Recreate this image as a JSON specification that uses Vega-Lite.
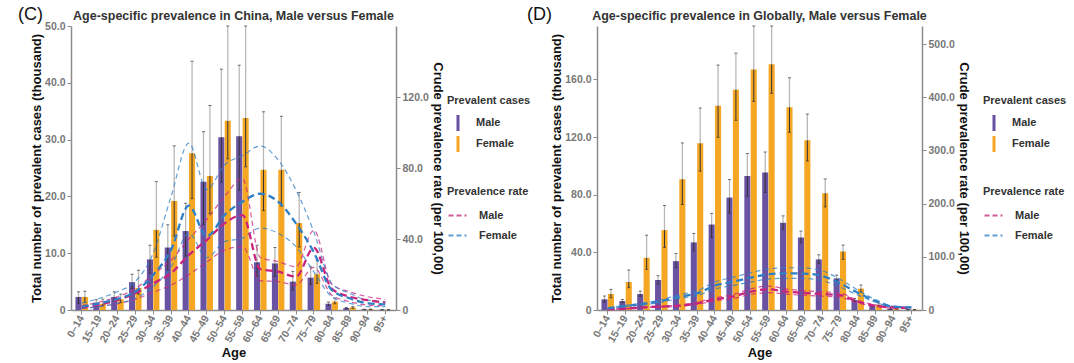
{
  "$schema": "https://vega.github.io/schema/vega-lite/v6.json",
  "background": "white",
  "padding": {"left": 17, "top": 5, "right": 0, "bottom": 0},
  "spacing": -5,
  "config": {
    "font": "Liberation Sans",
    "view": {"stroke": null},
    "axis": {"grid": false, "domainColor": "#8c8c8c", "domainWidth": 1.5, "tickColor": "#8c8c8c", "tickSize": 4, "labelColor": "#777", "labelFontSize": 10.5, "labelFontWeight": "bold", "titleColor": "#111", "titleFontSize": 13, "titleFontWeight": "bold"},
    "legend": {"titleFontSize": 11, "titleFontWeight": "bold", "titleColor": "#333", "labelFontSize": 11, "labelFontWeight": "bold", "labelColor": "#333"}
  },
  "datasets": {
    "cBars": [
      {"age": "0–14", "sex": "Male", "val": 2.3, "lo": 1.2, "hi": 3.2},
      {"age": "0–14", "sex": "Female", "val": 2.3, "lo": 1.3, "hi": 3.3},
      {"age": "15–19", "sex": "Male", "val": 1.3, "lo": 0.9, "hi": 1.8},
      {"age": "15–19", "sex": "Female", "val": 1.1, "lo": 0.8, "hi": 1.9},
      {"age": "20–24", "sex": "Male", "val": 2.3, "lo": 1.6, "hi": 3.2},
      {"age": "20–24", "sex": "Female", "val": 1.9, "lo": 1.3, "hi": 2.8},
      {"age": "25–29", "sex": "Male", "val": 4.9, "lo": 3.8, "hi": 6.3},
      {"age": "25–29", "sex": "Female", "val": 3.9, "lo": 2.8, "hi": 7.0},
      {"age": "30–34", "sex": "Male", "val": 8.9, "lo": 6.5, "hi": 11.4},
      {"age": "30–34", "sex": "Female", "val": 14.1, "lo": 9.3, "hi": 22.6},
      {"age": "35–39", "sex": "Male", "val": 11.0, "lo": 7.0, "hi": 15.0},
      {"age": "35–39", "sex": "Female", "val": 19.2, "lo": 13.0, "hi": 28.9},
      {"age": "40–44", "sex": "Male", "val": 13.9, "lo": 9.5, "hi": 18.8},
      {"age": "40–44", "sex": "Female", "val": 27.6, "lo": 19.6, "hi": 43.8},
      {"age": "45–49", "sex": "Male", "val": 22.6, "lo": 15.0, "hi": 31.4},
      {"age": "45–49", "sex": "Female", "val": 23.6, "lo": 17.0, "hi": 36.0},
      {"age": "50–54", "sex": "Male", "val": 30.4, "lo": 22.5, "hi": 42.4},
      {"age": "50–54", "sex": "Female", "val": 33.3, "lo": 26.6, "hi": 50.0},
      {"age": "55–59", "sex": "Male", "val": 30.6, "lo": 21.1, "hi": 43.1},
      {"age": "55–59", "sex": "Female", "val": 33.8, "lo": 25.2, "hi": 50.0},
      {"age": "60–64", "sex": "Male", "val": 8.4, "lo": 5.9, "hi": 11.4},
      {"age": "60–64", "sex": "Female", "val": 24.7, "lo": 17.5, "hi": 34.9},
      {"age": "65–69", "sex": "Male", "val": 8.2, "lo": 5.9, "hi": 11.0},
      {"age": "65–69", "sex": "Female", "val": 24.7, "lo": 18.3, "hi": 34.1},
      {"age": "70–74", "sex": "Male", "val": 5.0, "lo": 3.5, "hi": 6.8},
      {"age": "70–74", "sex": "Female", "val": 15.3, "lo": 11.1, "hi": 20.7},
      {"age": "75–79", "sex": "Male", "val": 5.7, "lo": 4.5, "hi": 7.6},
      {"age": "75–79", "sex": "Female", "val": 6.3, "lo": 4.7, "hi": 8.8},
      {"age": "80–84", "sex": "Male", "val": 1.1, "lo": 0.8, "hi": 1.4},
      {"age": "80–84", "sex": "Female", "val": 1.5, "lo": 1.1, "hi": 2.1},
      {"age": "85–89", "sex": "Male", "val": 0.35, "lo": 0.25, "hi": 0.45},
      {"age": "85–89", "sex": "Female", "val": 0.45, "lo": 0.3, "hi": 0.6},
      {"age": "90–94", "sex": "Male", "val": 0.1, "lo": 0.07, "hi": 0.13},
      {"age": "90–94", "sex": "Female", "val": 0.12, "lo": 0.08, "hi": 0.16},
      {"age": "95+", "sex": "Male", "val": 0.05, "lo": 0.03, "hi": 0.07},
      {"age": "95+", "sex": "Female", "val": 0.05, "lo": 0.03, "hi": 0.07}
    ],
    "cRates": [
      {"age": "0–14", "gender": "Male", "est": 1.5, "lo": 0.8, "hi": 2.5},
      {"age": "15–19", "gender": "Male", "est": 3.2, "lo": 2.0, "hi": 4.5},
      {"age": "20–24", "gender": "Male", "est": 5.6, "lo": 3.5, "hi": 7.5},
      {"age": "25–29", "gender": "Male", "est": 9.4, "lo": 6.0, "hi": 12.0},
      {"age": "30–34", "gender": "Male", "est": 15.0, "lo": 10.0, "hi": 20.0},
      {"age": "35–39", "gender": "Male", "est": 20.7, "lo": 14.0, "hi": 28.0},
      {"age": "40–44", "gender": "Male", "est": 31.0, "lo": 20.0, "hi": 40.0},
      {"age": "45–49", "gender": "Male", "est": 39.4, "lo": 27.0, "hi": 51.0},
      {"age": "50–54", "gender": "Male", "est": 48.8, "lo": 33.8, "hi": 64.0},
      {"age": "55–59", "gender": "Male", "est": 53.5, "lo": 35.7, "hi": 74.0},
      {"age": "60–64", "gender": "Male", "est": 23.0, "lo": 16.5, "hi": 29.6},
      {"age": "65–69", "gender": "Male", "est": 21.6, "lo": 16.0, "hi": 27.2},
      {"age": "70–74", "gender": "Male", "est": 18.8, "lo": 14.1, "hi": 24.4},
      {"age": "75–79", "gender": "Male", "est": 35.0, "lo": 24.0, "hi": 45.0},
      {"age": "80–84", "gender": "Male", "est": 12.0, "lo": 8.5, "hi": 14.5},
      {"age": "85–89", "gender": "Male", "est": 7.5, "lo": 4.7, "hi": 10.3},
      {"age": "90–94", "gender": "Male", "est": 5.6, "lo": 2.8, "hi": 7.5},
      {"age": "95+", "gender": "Male", "est": 4.1, "lo": 2.3, "hi": 6.0},
      {"age": "0–14", "gender": "Female", "est": 1.9, "lo": 0.9, "hi": 3.9},
      {"age": "15–19", "gender": "Female", "est": 3.8, "lo": 1.9, "hi": 6.6},
      {"age": "20–24", "gender": "Female", "est": 6.2, "lo": 3.8, "hi": 10.3},
      {"age": "25–29", "gender": "Female", "est": 10.3, "lo": 6.6, "hi": 16.0},
      {"age": "30–34", "gender": "Female", "est": 19.7, "lo": 13.1, "hi": 31.9},
      {"age": "35–39", "gender": "Female", "est": 33.8, "lo": 24.4, "hi": 63.8},
      {"age": "40–44", "gender": "Female", "est": 58.8, "lo": 43.2, "hi": 94.0},
      {"age": "45–49", "gender": "Female", "est": 41.5, "lo": 29.5, "hi": 68.0},
      {"age": "50–54", "gender": "Female", "est": 53.5, "lo": 38.5, "hi": 81.7},
      {"age": "55–59", "gender": "Female", "est": 61.0, "lo": 40.5, "hi": 87.0},
      {"age": "60–64", "gender": "Female", "est": 65.5, "lo": 46.2, "hi": 92.4},
      {"age": "65–69", "gender": "Female", "est": 61.0, "lo": 43.2, "hi": 84.5},
      {"age": "70–74", "gender": "Female", "est": 48.8, "lo": 35.7, "hi": 67.6},
      {"age": "75–79", "gender": "Female", "est": 32.5, "lo": 21.5, "hi": 44.0},
      {"age": "80–84", "gender": "Female", "est": 11.3, "lo": 7.5, "hi": 15.0},
      {"age": "85–89", "gender": "Female", "est": 6.6, "lo": 3.8, "hi": 9.4},
      {"age": "90–94", "gender": "Female", "est": 3.8, "lo": 1.9, "hi": 5.6},
      {"age": "95+", "gender": "Female", "est": 3.2, "lo": 1.9, "hi": 4.7}
    ],
    "dBars": [
      {"age": "0–14", "sex": "Male", "val": 7.4, "lo": 5.5, "hi": 9.7},
      {"age": "0–14", "sex": "Female", "val": 11.1, "lo": 8.5, "hi": 14.3},
      {"age": "15–19", "sex": "Male", "val": 6.2, "lo": 5.2, "hi": 7.3},
      {"age": "15–19", "sex": "Female", "val": 19.4, "lo": 15.5, "hi": 27.7},
      {"age": "20–24", "sex": "Male", "val": 11.1, "lo": 9.5, "hi": 13.1},
      {"age": "20–24", "sex": "Female", "val": 36.2, "lo": 28.2, "hi": 51.9},
      {"age": "25–29", "sex": "Male", "val": 20.8, "lo": 18.0, "hi": 23.8},
      {"age": "25–29", "sex": "Female", "val": 55.4, "lo": 43.4, "hi": 72.5},
      {"age": "30–34", "sex": "Male", "val": 33.9, "lo": 29.5, "hi": 39.2},
      {"age": "30–34", "sex": "Female", "val": 90.7, "lo": 73.2, "hi": 115.9},
      {"age": "35–39", "sex": "Male", "val": 46.9, "lo": 41.0, "hi": 53.1},
      {"age": "35–39", "sex": "Female", "val": 115.6, "lo": 96.3, "hi": 140.1},
      {"age": "40–44", "sex": "Male", "val": 59.3, "lo": 50.3, "hi": 67.0},
      {"age": "40–44", "sex": "Female", "val": 141.7, "lo": 119.8, "hi": 169.9},
      {"age": "45–49", "sex": "Male", "val": 78.0, "lo": 67.0, "hi": 90.5},
      {"age": "45–49", "sex": "Female", "val": 152.8, "lo": 131.6, "hi": 178.2},
      {"age": "50–54", "sex": "Male", "val": 93.0, "lo": 79.0, "hi": 108.5},
      {"age": "50–54", "sex": "Female", "val": 166.9, "lo": 144.7, "hi": 197.0},
      {"age": "55–59", "sex": "Male", "val": 95.4, "lo": 81.5, "hi": 109.6},
      {"age": "55–59", "sex": "Female", "val": 170.4, "lo": 150.3, "hi": 197.0},
      {"age": "60–64", "sex": "Male", "val": 60.5, "lo": 55.9, "hi": 65.3},
      {"age": "60–64", "sex": "Female", "val": 140.6, "lo": 123.3, "hi": 161.1},
      {"age": "65–69", "sex": "Male", "val": 50.3, "lo": 46.6, "hi": 54.7},
      {"age": "65–69", "sex": "Female", "val": 117.7, "lo": 103.4, "hi": 135.9},
      {"age": "70–74", "sex": "Male", "val": 35.1, "lo": 32.3, "hi": 38.3},
      {"age": "70–74", "sex": "Female", "val": 81.0, "lo": 71.5, "hi": 90.9},
      {"age": "75–79", "sex": "Male", "val": 21.9, "lo": 20.0, "hi": 24.2},
      {"age": "75–79", "sex": "Female", "val": 40.6, "lo": 35.1, "hi": 45.0},
      {"age": "80–84", "sex": "Male", "val": 7.0, "lo": 6.0, "hi": 8.0},
      {"age": "80–84", "sex": "Female", "val": 14.8, "lo": 12.5, "hi": 17.3},
      {"age": "85–89", "sex": "Male", "val": 2.8, "lo": 2.2, "hi": 3.5},
      {"age": "85–89", "sex": "Female", "val": 3.5, "lo": 2.8, "hi": 4.3},
      {"age": "90–94", "sex": "Male", "val": 0.7, "lo": 0.5, "hi": 0.9},
      {"age": "90–94", "sex": "Female", "val": 0.8, "lo": 0.6, "hi": 1.0},
      {"age": "95+", "sex": "Male", "val": 0.3, "lo": 0.2, "hi": 0.4},
      {"age": "95+", "sex": "Female", "val": 0.3, "lo": 0.2, "hi": 0.4}
    ],
    "dRates": [
      {"age": "0–14", "gender": "Male", "est": 1.3, "lo": 1.0, "hi": 1.7},
      {"age": "15–19", "gender": "Male", "est": 2.5, "lo": 2.0, "hi": 3.0},
      {"age": "20–24", "gender": "Male", "est": 5.0, "lo": 4.2, "hi": 5.8},
      {"age": "25–29", "gender": "Male", "est": 6.3, "lo": 5.3, "hi": 7.4},
      {"age": "30–34", "gender": "Male", "est": 8.1, "lo": 6.9, "hi": 9.4},
      {"age": "35–39", "gender": "Male", "est": 12.5, "lo": 10.6, "hi": 14.4},
      {"age": "40–44", "gender": "Male", "est": 20.0, "lo": 17.0, "hi": 23.0},
      {"age": "45–49", "gender": "Male", "est": 25.0, "lo": 21.3, "hi": 28.8},
      {"age": "50–54", "gender": "Male", "est": 34.5, "lo": 29.3, "hi": 39.7},
      {"age": "55–59", "gender": "Male", "est": 38.9, "lo": 32.6, "hi": 45.0},
      {"age": "60–64", "gender": "Male", "est": 34.5, "lo": 29.8, "hi": 39.4},
      {"age": "65–69", "gender": "Male", "est": 32.0, "lo": 27.6, "hi": 36.5},
      {"age": "70–74", "gender": "Male", "est": 30.0, "lo": 26.0, "hi": 34.2},
      {"age": "75–79", "gender": "Male", "est": 28.0, "lo": 24.2, "hi": 32.0},
      {"age": "80–84", "gender": "Male", "est": 15.6, "lo": 13.2, "hi": 18.0},
      {"age": "85–89", "gender": "Male", "est": 8.1, "lo": 6.7, "hi": 9.5},
      {"age": "90–94", "gender": "Male", "est": 4.4, "lo": 3.5, "hi": 5.3},
      {"age": "95+", "gender": "Male", "est": 3.8, "lo": 3.0, "hi": 4.6},
      {"age": "0–14", "gender": "Female", "est": 3.2, "lo": 2.6, "hi": 3.9},
      {"age": "15–19", "gender": "Female", "est": 7.5, "lo": 6.4, "hi": 8.7},
      {"age": "20–24", "gender": "Female", "est": 11.3, "lo": 9.7, "hi": 13.1},
      {"age": "25–29", "gender": "Female", "est": 16.9, "lo": 14.6, "hi": 19.5},
      {"age": "30–34", "gender": "Female", "est": 25.0, "lo": 21.6, "hi": 28.8},
      {"age": "35–39", "gender": "Female", "est": 31.3, "lo": 27.1, "hi": 36.0},
      {"age": "40–44", "gender": "Female", "est": 45.7, "lo": 39.5, "hi": 52.6},
      {"age": "45–49", "gender": "Female", "est": 53.2, "lo": 46.0, "hi": 61.3},
      {"age": "50–54", "gender": "Female", "est": 60.8, "lo": 52.5, "hi": 70.0},
      {"age": "55–59", "gender": "Female", "est": 67.0, "lo": 57.9, "hi": 77.2},
      {"age": "60–64", "gender": "Female", "est": 69.0, "lo": 59.6, "hi": 79.5},
      {"age": "65–69", "gender": "Female", "est": 68.5, "lo": 59.2, "hi": 79.0},
      {"age": "70–74", "gender": "Female", "est": 64.0, "lo": 55.3, "hi": 73.8},
      {"age": "75–79", "gender": "Female", "est": 50.2, "lo": 43.4, "hi": 57.9},
      {"age": "80–84", "gender": "Female", "est": 32.6, "lo": 28.2, "hi": 37.6},
      {"age": "85–89", "gender": "Female", "est": 16.9, "lo": 14.6, "hi": 19.5},
      {"age": "90–94", "gender": "Female", "est": 6.3, "lo": 5.4, "hi": 7.3},
      {"age": "95+", "gender": "Female", "est": 5.0, "lo": 4.3, "hi": 5.8}
    ]
  },
  "hconcat": [
    {
      "width": 325, "height": 284,
      "title": {"text": "Age-specific prevalence in China, Male versus Female", "anchor": "middle", "frame": "group", "fontSize": 12.5, "fontWeight": "bold", "color": "#333", "offset": -17},
      "layer": [
        {
          "data": {"name": "cBars"},
          "layer": [
            {"mark": {"type": "bar"},
             "encoding": {
               "x": {"field": "age", "type": "nominal", "scale": {"domain": ["0–14","15–19","20–24","25–29","30–34","35–39","40–44","45–49","50–54","55–59","60–64","65–69","70–74","75–79","80–84","85–89","90–94","95+"], "paddingInner": 0.3, "paddingOuter": 0.25}, "axis": {"orient": "bottom", "title": "Age", "labelAngle": -60, "labelFontSize": 10.5, "titlePadding": 2}},
               "xOffset": {"field": "sex", "type": "nominal", "scale": {"domain": ["Male","Female"], "paddingInner": 0.05}},
               "y": {"field": "val", "type": "quantitative", "scale": {"domain": [0, 50], "nice": false}, "axis": {"title": "Total number of prevalent cases (thousand)", "titlePadding": 1, "values": [0,10,20,30,40,50], "labelExpr": "datum.value == 0 ? '0' : format(datum.value, '.1f')"}},
               "fill": {"field": "sex", "type": "nominal", "scale": {"domain": ["Male","Female"], "range": ["#6a52a3","#f5a623"]}, "legend": {"title": "Prevalent cases", "orient": "none", "legendX": 376, "legendY": 69, "symbolType": "M-0.19,-1L0.19,-1L0.19,1L-0.19,1Z", "symbolSize": 256, "symbolStrokeWidth": 0, "symbolOffset": 3, "labelOffset": 10, "rowPadding": 5, "titlePadding": 9}}
             }},
            {"mark": {"type": "rule", "color": "#b8b8b8", "strokeWidth": 1.3},
             "encoding": {"x": {"field": "age", "type": "nominal"}, "xOffset": {"field": "sex", "type": "nominal"}, "y": {"field": "val", "type": "quantitative"}, "y2": {"field": "hi"}}},
            {"mark": {"type": "rule", "color": "#333", "strokeWidth": 1},
             "encoding": {"x": {"field": "age", "type": "nominal"}, "xOffset": {"field": "sex", "type": "nominal"}, "y": {"field": "lo", "type": "quantitative"}, "y2": {"field": "val"}}},
            {"mark": {"type": "tick", "color": "#333", "size": 3, "thickness": 1},
             "encoding": {"x": {"field": "age", "type": "nominal"}, "xOffset": {"field": "sex", "type": "nominal"}, "y": {"field": "hi", "type": "quantitative"}}},
            {"mark": {"type": "tick", "color": "#333", "size": 3, "thickness": 1},
             "encoding": {"x": {"field": "age", "type": "nominal"}, "xOffset": {"field": "sex", "type": "nominal"}, "y": {"field": "lo", "type": "quantitative"}}}
          ]
        },
        {
          "data": {"name": "cRates"},
          "layer": [
            {"mark": {"type": "line", "interpolate": "monotone", "strokeDash": [5, 3.5], "strokeWidth": 1.2, "opacity": 0.75},
             "encoding": {
               "x": {"field": "age", "type": "nominal", "axis": {"orient": "top", "labels": false, "ticks": false, "domain": false, "title": "(C)", "titleX": -41, "titleY": -7, "titleAngle": 0, "titleAlign": "center", "titleBaseline": "alphabetic", "titleFontSize": 18, "titleFontWeight": "normal", "titleColor": "#111"}},
               "y": {"field": "lo", "type": "quantitative", "scale": {"domain": [0, 160], "nice": false}, "axis": {"orient": "right", "title": "Crude prevalence rate (per 100,00)", "titlePadding": 2, "values": [0,40,80,120], "labelExpr": "datum.value == 0 ? '0' : format(datum.value, '.1f')"}},
               "stroke": {"field": "gender", "type": "nominal", "sort": "descending", "scale": {"range": ["#c8237d","#2f7fc5"]}}
             }},
            {"mark": {"type": "line", "interpolate": "monotone", "strokeDash": [5, 3.5], "strokeWidth": 1.2, "opacity": 0.75},
             "encoding": {"x": {"field": "age", "type": "nominal"}, "y": {"field": "hi", "type": "quantitative"}, "stroke": {"field": "gender", "type": "nominal", "sort": "descending"}}},
            {"mark": {"type": "line", "interpolate": "monotone", "strokeDash": [7, 4], "strokeWidth": 2.3},
             "encoding": {"x": {"field": "age", "type": "nominal"}, "y": {"field": "est", "type": "quantitative"}, "stroke": {"field": "gender", "type": "nominal", "sort": "descending", "legend": {"title": "Prevalence rate", "orient": "none", "legendX": 376, "legendY": 160, "symbolType": "stroke", "symbolSize": 324, "symbolDash": [5, 3], "symbolStrokeWidth": 2.2, "labelOffset": 11, "rowPadding": 4, "titlePadding": 8}}}}
          ]
        }
      ],
      "resolve": {"scale": {"y": "independent"}, "axis": {"x": "independent"}}
    },
    {
      "width": 325, "height": 284,
      "title": {"text": "Age-specific prevalence in Globally, Male versus Female", "anchor": "middle", "frame": "group", "fontSize": 12.5, "fontWeight": "bold", "color": "#333", "offset": -17},
      "layer": [
        {
          "data": {"name": "dBars"},
          "layer": [
            {"mark": {"type": "bar"},
             "encoding": {
               "x": {"field": "age", "type": "nominal", "scale": {"domain": ["0–14","15–19","20–24","25–29","30–34","35–39","40–44","45–49","50–54","55–59","60–64","65–69","70–74","75–79","80–84","85–89","90–94","95+"], "paddingInner": 0.3, "paddingOuter": 0.25}, "axis": {"orient": "bottom", "title": "Age", "labelAngle": -60, "labelFontSize": 10.5, "titlePadding": 2}},
               "xOffset": {"field": "sex", "type": "nominal", "scale": {"domain": ["Male","Female"], "paddingInner": 0.05}},
               "y": {"field": "val", "type": "quantitative", "scale": {"domain": [0, 197], "nice": false}, "axis": {"title": "Total number of prevalent cases (thousand)", "titlePadding": 1, "values": [0,40,80,120,160], "labelExpr": "datum.value == 0 ? '0' : format(datum.value, '.1f')"}},
               "fill": {"field": "sex", "type": "nominal", "scale": {"domain": ["Male","Female"], "range": ["#6a52a3","#f5a623"]}, "legend": {"title": "Prevalent cases", "orient": "none", "legendX": 386, "legendY": 69, "symbolType": "M-0.19,-1L0.19,-1L0.19,1L-0.19,1Z", "symbolSize": 256, "symbolStrokeWidth": 0, "symbolOffset": 3, "labelOffset": 10, "rowPadding": 5, "titlePadding": 9}}
             }},
            {"mark": {"type": "rule", "color": "#b8b8b8", "strokeWidth": 1.3},
             "encoding": {"x": {"field": "age", "type": "nominal"}, "xOffset": {"field": "sex", "type": "nominal"}, "y": {"field": "val", "type": "quantitative"}, "y2": {"field": "hi"}}},
            {"mark": {"type": "rule", "color": "#333", "strokeWidth": 1},
             "encoding": {"x": {"field": "age", "type": "nominal"}, "xOffset": {"field": "sex", "type": "nominal"}, "y": {"field": "lo", "type": "quantitative"}, "y2": {"field": "val"}}},
            {"mark": {"type": "tick", "color": "#333", "size": 3, "thickness": 1},
             "encoding": {"x": {"field": "age", "type": "nominal"}, "xOffset": {"field": "sex", "type": "nominal"}, "y": {"field": "hi", "type": "quantitative"}}},
            {"mark": {"type": "tick", "color": "#333", "size": 3, "thickness": 1},
             "encoding": {"x": {"field": "age", "type": "nominal"}, "xOffset": {"field": "sex", "type": "nominal"}, "y": {"field": "lo", "type": "quantitative"}}}
          ]
        },
        {
          "data": {"name": "dRates"},
          "layer": [
            {"mark": {"type": "line", "interpolate": "monotone", "strokeDash": [5, 3.5], "strokeWidth": 1.2, "opacity": 0.75},
             "encoding": {
               "x": {"field": "age", "type": "nominal", "axis": {"orient": "top", "labels": false, "ticks": false, "domain": false, "title": "(D)", "titleX": -58, "titleY": -7, "titleAngle": 0, "titleAlign": "center", "titleBaseline": "alphabetic", "titleFontSize": 18, "titleFontWeight": "normal", "titleColor": "#111"}},
               "y": {"field": "lo", "type": "quantitative", "scale": {"domain": [0, 534], "nice": false}, "axis": {"orient": "right", "title": "Crude prevalence rate (per 100,00)", "titlePadding": 2, "values": [0,100,200,300,400,500], "labelExpr": "datum.value == 0 ? '0' : format(datum.value, '.1f')"}},
               "stroke": {"field": "gender", "type": "nominal", "sort": "descending", "scale": {"range": ["#c8237d","#2f7fc5"]}}
             }},
            {"mark": {"type": "line", "interpolate": "monotone", "strokeDash": [5, 3.5], "strokeWidth": 1.2, "opacity": 0.75},
             "encoding": {"x": {"field": "age", "type": "nominal"}, "y": {"field": "hi", "type": "quantitative"}, "stroke": {"field": "gender", "type": "nominal", "sort": "descending"}}},
            {"mark": {"type": "line", "interpolate": "monotone", "strokeDash": [7, 4], "strokeWidth": 2.3},
             "encoding": {"x": {"field": "age", "type": "nominal"}, "y": {"field": "est", "type": "quantitative"}, "stroke": {"field": "gender", "type": "nominal", "sort": "descending", "legend": {"title": "Prevalence rate", "orient": "none", "legendX": 386, "legendY": 160, "symbolType": "stroke", "symbolSize": 324, "symbolDash": [5, 3], "symbolStrokeWidth": 2.2, "labelOffset": 11, "rowPadding": 4, "titlePadding": 8}}}}
          ]
        }
      ],
      "resolve": {"scale": {"y": "independent"}, "axis": {"x": "independent"}}
    }
  ],
  "resolve": {"scale": {"fill": "independent", "stroke": "independent"}, "legend": {"fill": "independent", "stroke": "independent"}}
}
